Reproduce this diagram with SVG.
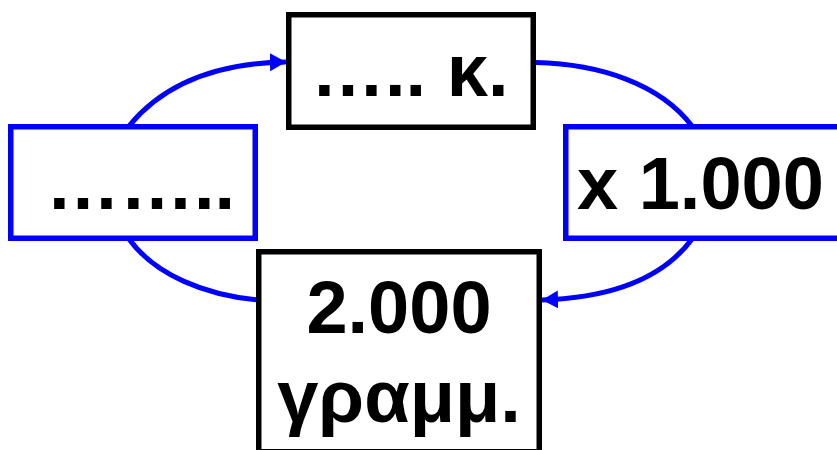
<svg xmlns="http://www.w3.org/2000/svg" width="837" height="450" viewBox="0 0 837 450">
<defs>
<style>
.black{fill:#ffffff;stroke:#000000;stroke-width:5.5}
.blue{fill:#ffffff;stroke:#0000ff;stroke-width:5.5}
.t{font-family:"Liberation Sans",Arial,sans-serif;font-weight:bold;font-size:74px;fill:#000000}
.c{fill:none;stroke:#0000ff;stroke-width:5}
</style>
<marker id="arr" markerUnits="userSpaceOnUse" markerWidth="18" markerHeight="20" refX="16" refY="9" orient="auto">
<path d="M0,0 L16,9 L0,18 Z" fill="#0000ff"/>
</marker>
</defs>
<g id="connectors">
<path class="c" d="M129,126 C165,82 220,63 286,62" marker-end="url(#arr)" />
<path class="c" d="M536,62.5 C600,64 660,84 692,126"/>
<path class="c" d="M692,239 C660,282 605,298 542,300" marker-end="url(#arr)"/>
<path class="c" d="M129,239 C155,275 205,295 258,300"/>
</g>
<g id="node-left">
<rect class="blue" x="10.75" y="126.75" width="244.5" height="111.5"/>
<text class="t" x="46" y="209">……..</text>
</g>
<g id="node-top">
<rect class="black" x="288.75" y="14.75" width="244.5" height="112.5"/>
<text class="t" x="311" y="96">….. κ.</text>
</g>
<g id="node-right">
<rect class="blue" x="565.75" y="126.75" width="280" height="111.5"/>
<text class="t" x="577" y="209">x 1.000</text>
</g>
<g id="node-bottom">
<rect class="black" x="258.75" y="251.75" width="280.5" height="200"/>
<text class="t" x="399" y="333" text-anchor="middle">2.000</text>
<text class="t" x="399" y="422" text-anchor="middle">γραμμ.</text>
</g>
</svg>
